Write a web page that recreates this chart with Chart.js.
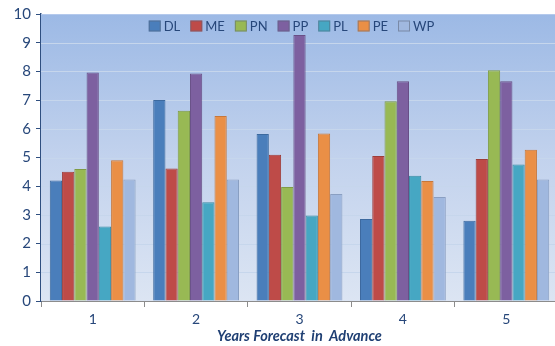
<!DOCTYPE html>
<html>
<head>
<meta charset="utf-8">
<script src="https://cdn.jsdelivr.net/npm/chart.js@4/dist/chart.umd.min.js"></script>
<style>
  html, body { margin: 0; padding: 0; background: #ffffff; overflow: hidden; }
  #wrap { width: 560px; height: 346px; }
</style>
</head>
<body>
<div id="wrap"><canvas id="c" width="560" height="346"></canvas></div>
<script>
// Forecast horizons (years in advance)
const categories = ['1', '2', '3', '4', '5'];

// One series per model
const seriesNames = ['DL', 'ME', 'PN', 'PP', 'PL', 'PE', 'WP'];
const DL = [4.2, 7.0, 5.82, 2.86, 2.8];
const ME = [4.5, 4.62, 5.1, 5.05, 4.95];
const PN = [4.6, 6.63, 3.97, 6.96, 8.04];
const PP = [7.96, 7.93, 9.27, 7.66, 7.66];
const PL = [2.6, 3.44, 2.98, 4.36, 4.76];
const PE = [4.9, 6.45, 5.84, 4.18, 5.27];
const WP = [4.23, 4.23, 3.73, 3.62, 4.23];

const yTicks = [0, 1, 2, 3, 4, 5, 6, 7, 8, 9, 10];
const xTitle = 'Years Forecast  in  Advance';

const seriesValues = [DL, ME, PN, PP, PL, PE, WP];
const fills = ['#4a7ebb', '#be4b48', '#98b954', '#7d60a0', '#46a7c3', '#ea8f46', '#a0b8df'];
const edges = ['#3d6a9f', '#9e3d3a', '#7f9c45', '#684f86', '#3a8ba3', '#c7773a', '#8a9fc2'];

const NAVY = '#27477a';
const FONT = 'Lato, "Liberation Sans", sans-serif';

// Gradient fill behind the plot area
const plotBackground = {
  id: 'plotBackground',
  beforeDatasetsDraw(chart) {
    const { ctx, chartArea: a } = chart;
    const g = ctx.createLinearGradient(0, a.top, 0, a.bottom);
    g.addColorStop(0, '#9cb9e5');
    g.addColorStop(0.5, '#c2d2ed');
    g.addColorStop(1, '#dce5f3');
    ctx.save();
    ctx.fillStyle = g;
    ctx.fillRect(a.left, a.top, a.right - a.left, a.bottom - a.top);
    // horizontal gridlines over the gradient
    const y = chart.scales.y;
    ctx.strokeStyle = '#c6d6ec';
    ctx.lineWidth = 1;
    yTicks.forEach(v => {
      if (v === 0) return;
      const py = Math.round(y.getPixelForValue(v)) + 0.5;
      ctx.beginPath();
      ctx.moveTo(a.left, py);
      ctx.lineTo(a.right, py);
      ctx.stroke();
    });
    // light frame line along the top
    ctx.strokeStyle = '#b4c9ec';
    ctx.beginPath();
    ctx.moveTo(a.left, a.top + 0.5);
    ctx.lineTo(a.right, a.top + 0.5);
    ctx.stroke();
    ctx.restore();
  }
};

// Legend drawn inside the plot area, near the top
const innerLegend = {
  id: 'innerLegend',
  afterDatasetsDraw(chart) {
    const { ctx, chartArea: a } = chart;
    ctx.save();
    ctx.font = '13px ' + FONT;
    ctx.textBaseline = 'middle';
    const box = 12, gapText = 3, gapItem = 10;
    const widths = chart.data.datasets.map(d => box + gapText + ctx.measureText(d.label).width);
    const total = widths.reduce((s, w) => s + w, 0) + gapItem * (widths.length - 1);
    let x = (a.left + a.right) / 2 - total / 2 - 8;
    const cy = a.top + 12;
    chart.data.datasets.forEach((d, i) => {
      ctx.fillStyle = d.backgroundColor;
      ctx.fillRect(x, cy - 5.5, box, 11);
      ctx.strokeStyle = 'rgba(90,100,120,0.55)';
      ctx.lineWidth = 1;
      ctx.strokeRect(x + 0.5, cy - 5, box - 1, 10);
      ctx.fillStyle = NAVY;
      ctx.fillText(d.label, x + box + gapText, cy + 1);
      x += widths[i] + gapItem;
    });
    ctx.restore();
  }
};

new Chart(document.getElementById('c'), {
  type: 'bar',
  data: {
    labels: categories,
    datasets: seriesNames.map((name, i) => ({
      label: name,
      data: seriesValues[i],
      backgroundColor: fills[i],
      borderColor: edges[i],
      borderWidth: 1,
      categoryPercentage: 0.83,
      barPercentage: 1.0
    }))
  },
  options: {
    responsive: false,
    animation: false,
    layout: { padding: { top: 13, right: 2, left: 0, bottom: 0 } },
    plugins: {
      legend: { display: false },
      tooltip: { enabled: false }
    },
    scales: {
      x: {
        grid: {
          display: true,
          drawOnChartArea: false,
          drawTicks: true,
          tickLength: 6,
          offset: true,
          color: '#8c8c8c'
        },
        border: { display: true, color: '#8c8c8c', width: 1 },
        ticks: { color: NAVY, font: { size: 14, family: FONT }, padding: 4 },
        title: {
          display: true,
          text: xTitle,
          color: '#1f3f73',
          font: { size: 14.5, family: FONT, weight: 'bold', style: 'italic' },
          padding: { top: 0, bottom: 1 }
        },
        afterFit(scale) { scale.height = 45; }
      },
      y: {
        min: 0,
        max: 10,
        afterBuildTicks(scale) { scale.ticks = yTicks.map(v => ({ value: v })); },
        grid: {
          display: true,
          drawOnChartArea: false,
          drawTicks: true,
          tickLength: 5,
          color: '#2f4f80'
        },
        border: { display: true, color: '#2f4f80', width: 1.5 },
        ticks: { color: NAVY, font: { size: 15, family: FONT }, padding: 5 },
        afterFit(scale) { scale.width = 41; }
      }
    }
  },
  plugins: [plotBackground, innerLegend]
});
</script>
</body>
</html>
